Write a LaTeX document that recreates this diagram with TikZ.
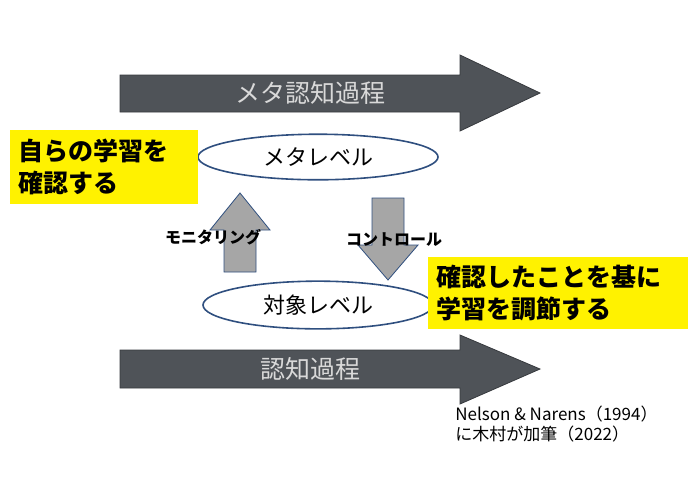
\documentclass[tikz,border=0pt]{standalone}
\usepackage{fontspec}
\setmainfont{Noto Sans CJK JP}
\usetikzlibrary{shapes.geometric}
\definecolor{darkarrow}{HTML}{4F5358}
\definecolor{greyarrow}{HTML}{A6A6A6}
\definecolor{ovalblue}{HTML}{2F4F7F}
\tikzset{
  bigarrow/.style={fill=darkarrow,draw=darkarrow!70!black},
  bigtext/.style={text=white!85!black,font=\fontsize{12.5}{14}\selectfont},
  smallarrow/.style={fill=greyarrow,draw=ovalblue,thin},
  level/.style={ellipse,draw=ovalblue,thick,fill=white,font=\fontsize{11}{13}\selectfont},
  note/.style={fill=yellow,align=left,font=\fontsize{12.5}{16}\selectfont\bfseries,inner sep=4pt}
}
\begin{document}
\begin{tikzpicture}[x=0.5pt,y=-0.5pt]
 	\useasboundingbox (0,0) rectangle (700,484);
 	% large process arrows
 	\draw[bigarrow] (120,75)--(460,75)--(460,55)--(540,93)--(460,131)--(460,112)--(120,112)--cycle;
 	\node[bigtext] (meta) at (310,93) {メタ認知過程};
 	\draw[bigarrow] (120,350)--(460,350)--(460,335)--(540,369)--(460,404)--(460,388)--(120,388)--cycle;
 	\node[bigtext] (cog) at (310,369) {認知過程};
 	% levels
 	\node[level,minimum width=120pt,minimum height=22pt] (metalevel) at (318,157) {メタレベル};
 	\node[level,minimum width=115pt,minimum height=22pt] (objlevel) at (318,305) {対象レベル};
 	% monitoring and control
 	\draw[smallarrow] (224,272)--(224,230)--(210,230)--(240,193)--(270,230)--(256,230)--(256,272)--cycle;
 	\draw[smallarrow] (372,198)--(404,198)--(404,245)--(418,245)--(388,280)--(358,245)--(372,245)--cycle;
 	\node[font=\fontsize{8}{10}\selectfont\bfseries] (monitor) at (213,237) {モニタリング};
 	\node[font=\fontsize{8}{10}\selectfont\bfseries] (control) at (394,240) {コントロール};
 	% notes
 	\node[note,text width=86pt,minimum height=37pt,anchor=north west] (check) at (10,130) {自らの学習を\\確認する};
 	\node[note,text width=122pt,minimum height=35pt,anchor=north west] (adjust) at (428,257) {確認したことを基に\\学習を調節する};
 	\node[align=left,anchor=north west,font=\fontsize{8.5}{10}\selectfont,inner sep=0pt] (cite) at (455,406) {Nelson \& Narens（1994）\\に木村が加筆（2022）};
\end{tikzpicture}
\end{document}
